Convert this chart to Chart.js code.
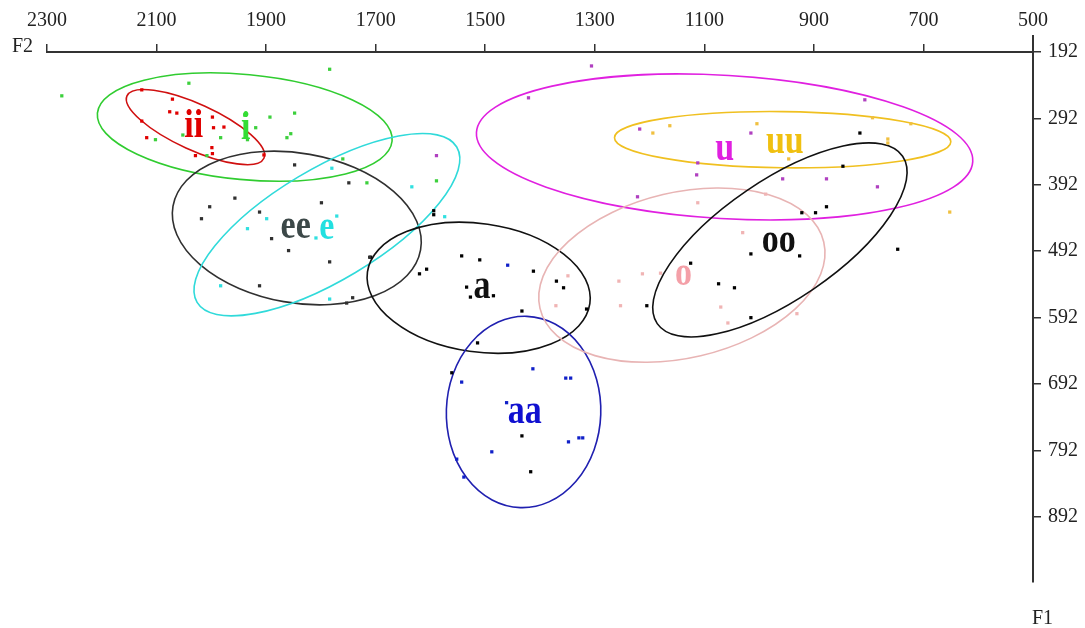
<!DOCTYPE html>
<html><head><meta charset="utf-8">
<script src="https://cdn.jsdelivr.net/npm/chart.js@4/dist/chart.umd.min.js"></script>
<style>html,body{margin:0;padding:0;background:#fff;}canvas{display:block;}</style>
</head><body>
<canvas id="c" width="1085" height="628"></canvas>
<script>
// ---------- data ----------
const F2_TICKS = [2300, 2100, 1900, 1700, 1500, 1300, 1100, 900, 700, 500];
const F1_TICKS = [192, 292, 392, 492, 592, 692, 792, 892];
const VOWELS = ['ii', 'i', 'ee', 'e', 'a', 'aa', 'u', 'uu', 'o', 'oo'];

// measured tokens [F2, F1]
const PTS_ii = [[2127,249],[2071,263],[2076,282],[2063,284],[2127,296],[2118,321],[1998,290],[1996,306],[1977,305],[1999,336],[1998,345],[2029,348],[1904,347]];
const PTS_i  = [[2273,258],[2041,239],[1784,218],[2102,324],[2052,317],[1983,321],[2008,348],[1939,287],[1919,306],[1893,290],[1848,284],[1862,321],[1855,315],[1934,324],[1760,353],[1716,389],[1589,386]];
const PTS_ee = [[1848,362],[1749,389],[1957,412],[2003,425],[2018,443],[1799,419],[1912,433],[1890,473],[1859,491],[1784,508],[1711,501],[1912,544],[1753,570],[1742,562]];
const PTS_e  = [[1780,367],[1634,395],[1899,443],[1934,458],[1771,439],[1809,472],[1983,544],[1784,564],[1574,440]];
const PTS_a  = [[1594,431],[1594,437],[1709,501],[1543,499],[1510,505],[1412,522],[1607,519],[1620,526],[1534,546],[1527,561],[1485,559],[1370,537],[1357,547],[1315,579],[1433,582],[1514,630],[1561,675],[1433,770],[1417,824]];
const PTS_aa = [[1459,513],[1543,689],[1413,669],[1353,683],[1344,683],[1461,720],[1348,779],[1329,773],[1322,773],[1488,794],[1552,805],[1539,832]];
const PTS_u  = [[1306,213],[1421,261],[1589,348],[1218,308],[1015,314],[1112,359],[1114,377],[1222,410],[807,264],[957,383],[877,383],[784,395]];
const PTS_uu = [[1194,314],[1163,303],[1004,300],[946,353],[793,291],[723,300],[765,323],[765,329],[652,433]];
const PTS_o  = [[1349,529],[1371,574],[1256,537],[1213,526],[1253,574],[1180,525],[1112,419],[988,406],[1030,464],[1070,576],[1057,600],[931,586]];
const PTS_oo = [[816,314],[847,364],[877,425],[897,434],[922,434],[1015,496],[926,499],[1125,510],[1074,541],[1045,547],[1205,574],[1015,592],[747,489]];
const POINTS = [PTS_ii, PTS_i, PTS_ee, PTS_e, PTS_a, PTS_aa, PTS_u, PTS_uu, PTS_o, PTS_oo];

// dispersion ellipses: centre, end of major semi-axis (F2, F1), minor/major ratio
const ELL_C_F2 = [2029, 1939, 1844, 1789, 1512, 1430, 1063, 957, 1141, 962];
const ELL_C_F1 = [305, 305, 457, 452, 547, 734, 335, 324, 528, 475];
const ELL_A_F2 = [1904, 1670, 1618, 1552, 1309, 1424, 610, 650, 882, 738];
const ELL_A_F1 = [352, 326, 490, 335, 571, 590, 357, 327, 478, 349];
const ELL_RATIO = [0.305, 0.355, 0.595, 0.368, 0.571, 0.807, 0.288, 0.167, 0.568, 0.40];

// vowel label anchors (F2, F1)
const LABEL_F2 = [2032, 1937, 1846, 1789, 1506, 1428, 1063, 953, 1138, 964];
const LABEL_F1 = [320, 323, 472, 473, 562, 750, 355, 344, 543, 493];

// ---------- styles ----------
const DOT_COLOR   = ['#e00000', '#3cd03c', '#303030', '#30e0e0', '#000000', '#1020c8', '#b040c0', '#f0c040', '#f0b4b4', '#000000'];
const ELL_COLOR   = ['#d01010', '#30cc30', '#303030', '#30dada', '#111111', '#2020b0', '#e020e0', '#f0c020', '#e8b4b4', '#111111'];
const LABEL_COLOR = ['#e00000', '#33dd33', '#3c4848', '#22e0e0', '#111111', '#1010d0', '#e020e0', '#f0c010', '#f4a0a8', '#111111'];

const overlay = {
  id: 'overlay',
  beforeDatasetsDraw(chart) {
    const { ctx, scales: { x, y } } = chart;
    ctx.save();
    for (let i = 0; i < VOWELS.length; i++) {
      const cx = x.getPixelForValue(ELL_C_F2[i]), cy = y.getPixelForValue(ELL_C_F1[i]);
      const ex = x.getPixelForValue(ELL_A_F2[i]), ey = y.getPixelForValue(ELL_A_F1[i]);
      const a = Math.hypot(ex - cx, ey - cy), rot = Math.atan2(ey - cy, ex - cx);
      ctx.beginPath();
      ctx.ellipse(cx, cy, a, a * ELL_RATIO[i], rot, 0, Math.PI * 2);
      ctx.strokeStyle = ELL_COLOR[i];
      ctx.lineWidth = 1.6;
      ctx.stroke();
    }
    ctx.restore();
  },
  afterDatasetsDraw(chart) {
    const { ctx, scales: { x, y } } = chart;
    ctx.save();
    ctx.font = 'bold 34px "Liberation Serif", "Times New Roman", serif';
    ctx.textAlign = 'center';
    ctx.textBaseline = 'alphabetic';
    for (let i = 0; i < VOWELS.length; i++) {
      ctx.save();
      ctx.translate(x.getPixelForValue(LABEL_F2[i]), y.getPixelForValue(LABEL_F1[i]));
      ctx.scale(1, 1.2);
      ctx.fillStyle = LABEL_COLOR[i];
      ctx.fillText(VOWELS[i], 0, 0);
      ctx.restore();
    }
    ctx.restore();
  },
  afterDraw(chart) {
    const { ctx, chartArea } = chart;
    ctx.save();
    ctx.strokeStyle = '#333';
    ctx.lineWidth = 2;
    ctx.beginPath();
    ctx.moveTo(chartArea.right, chartArea.top - 17);
    ctx.lineTo(chartArea.right, chartArea.top);
    ctx.stroke();
    ctx.fillStyle = '#222';
    ctx.font = '20px "Liberation Serif", "Times New Roman", serif';
    ctx.textAlign = 'left';
    ctx.textBaseline = 'alphabetic';
    ctx.fillText('F2', 12, 52);
    ctx.fillText('F1', 1032, 624);
    ctx.restore();
  }
};

const tickFont = { family: '"Liberation Serif", "Times New Roman", serif', size: 20 };

new Chart(document.getElementById('c'), {
  type: 'scatter',
  data: {
    datasets: VOWELS.map((v, i) => ({
      label: v,
      data: POINTS[i].map(p => ({ x: p[0], y: p[1] })),
      backgroundColor: DOT_COLOR[i],
      borderWidth: 0,
      pointStyle: 'rect',
      pointRadius: 2.3,
      pointHoverRadius: 2.3
    }))
  },
  options: {
    responsive: false,
    animation: false,
    devicePixelRatio: 1,
    layout: { padding: { left: 47, right: 0, top: 0, bottom: 46 } },
    plugins: { legend: { display: false }, tooltip: { enabled: false } },
    scales: {
      x: {
        type: 'linear', position: 'top', reverse: true, min: 500, max: 2300,
        afterBuildTicks: s => { s.ticks = F2_TICKS.map(v => ({ value: v })); },
        afterFit: s => { s.height = 52; },
        grid: { drawOnChartArea: false, drawTicks: true, tickLength: 8, color: '#333', lineWidth: 1.5 },
        border: { display: true, color: '#333', width: 2 },
        ticks: { color: '#222', font: tickFont, padding: 11, maxRotation: 0, autoSkip: false, callback: v => String(v) }
      },
      y: {
        type: 'linear', position: 'right', reverse: true, min: 192, max: 990,
        afterBuildTicks: s => { s.ticks = F1_TICKS.map(v => ({ value: v })); },
        afterFit: s => { s.width = 52; },
        grid: { drawOnChartArea: false, drawTicks: true, tickLength: 8, color: '#333', lineWidth: 1.5 },
        border: { display: true, color: '#333', width: 2 },
        ticks: { color: '#222', font: tickFont, padding: 7, autoSkip: false, callback: v => String(v) }
      }
    }
  },
  plugins: [overlay]
});
</script>
</body></html>
